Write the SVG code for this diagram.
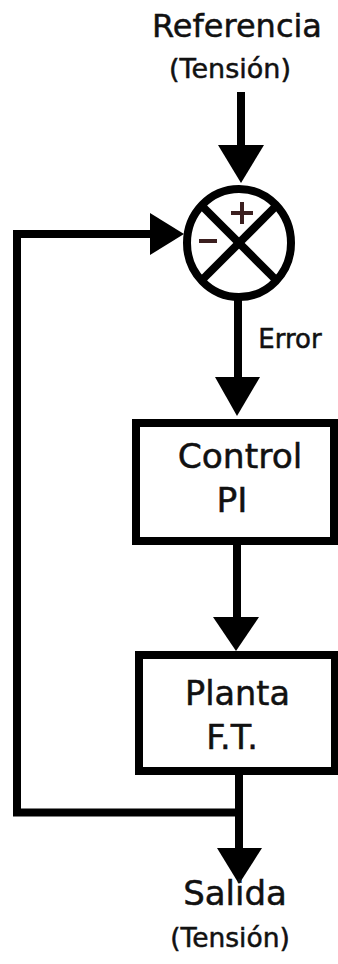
<svg xmlns="http://www.w3.org/2000/svg" width="338" height="964" viewBox="0 0 338 964">
<style>
text{font-family:"DejaVu Sans","Verdana",sans-serif;fill:#111;stroke:#111;stroke-width:0.5;text-anchor:middle}
.ln{stroke:#000;stroke-width:8;fill:none}
.ah{fill:#000}
.box{fill:#fff;stroke:#000;stroke-width:8}
.sg{stroke:#3b1f1f;stroke-width:4;fill:none}
</style>
<rect width="338" height="964" fill="#fff"/>
<g id="connectors">
<line class="ln" x1="241" y1="92" x2="241" y2="150"/>
<polygon class="ah" points="218,145 264,145 241,183"/>
<line class="ln" x1="238" y1="297" x2="238" y2="382"/>
<polygon class="ah" points="215,377 260,377 237,416"/>
<line class="ln" x1="237" y1="545" x2="237" y2="622"/>
<polygon class="ah" points="213,617 259,617 236,651"/>
<line class="ln" x1="239" y1="775" x2="239" y2="852"/>
<polygon class="ah" points="217,848 262,848 239,884"/>
<polyline class="ln" points="243,812.5 17,812.5 17,234 155,234"/>
<polygon class="ah" points="150,213 150,255 184,234"/>
</g>
<g id="reference">
<text x="237" y="37" font-size="32">Referencia</text>
<text x="230" y="78" font-size="27">(Tensión)</text>
</g>
<g id="sum">
<ellipse class="ln" cx="239" cy="243" rx="52" ry="54" fill="#fff"/>
<line class="ln" x1="203" y1="207" x2="276" y2="280" stroke-width="7.5"/>
<line class="ln" x1="276" y1="206" x2="203" y2="279" stroke-width="7.5"/>
<line class="sg" x1="231" y1="213" x2="253" y2="213"/>
<line class="sg" x1="242" y1="202" x2="242" y2="224"/>
<line class="sg" x1="199" y1="241" x2="217" y2="241"/>
</g>
<g id="error">
<text x="290" y="348" font-size="26">Error</text>
</g>
<g id="control">
<rect class="box" x="136" y="423" width="198" height="118"/>
<text x="240" y="468" font-size="34.5">Control</text>
<text x="232" y="512" font-size="34.5">PI</text>
</g>
<g id="planta">
<rect class="box" x="139" y="655" width="196" height="116"/>
<text x="237.5" y="705" font-size="33.5">Planta</text>
<text x="232" y="749" font-size="33.5">F.T.</text>
</g>
<g id="salida">
<text x="235" y="905" font-size="34">Salida</text>
<text x="230" y="947" font-size="26.5">(Tensión)</text>
</g>
</svg>
